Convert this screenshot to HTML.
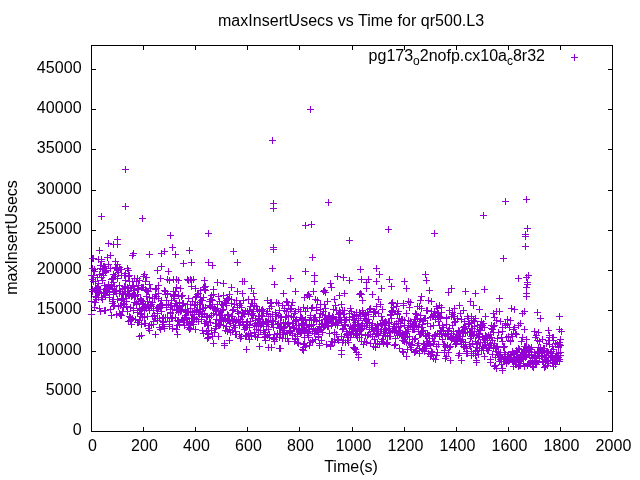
<!DOCTYPE html>
<html><head><meta charset="utf-8"><title>plot</title>
<style>
html,body{margin:0;padding:0;background:#fff;}
body{width:640px;height:480px;overflow:hidden;}
svg{display:block;will-change:transform;}
text{font-family:"Liberation Sans",sans-serif;font-size:16px;fill:#000;}
.tk{letter-spacing:0.1px;}
.ax{stroke:#000;stroke-width:1;fill:none;shape-rendering:crispEdges;}
.pt{stroke:#9400d3;stroke-width:1;fill:none;shape-rendering:crispEdges;}
</style></head><body>
<svg width="640" height="480" viewBox="0 0 640 480">
<rect width="640" height="480" fill="#fff"/>
<path class="ax" d="M91.5,45.5H612.5V431.5H91.5Z"/>
<path fill="#000" shape-rendering="crispEdges" d="M91,391h5v1h-5zM613,391h-5v1h5zM91,351h5v1h-5zM613,351h-5v1h5zM91,310h5v1h-5zM613,310h-5v1h5zM91,270h5v1h-5zM613,270h-5v1h5zM91,230h5v1h-5zM613,230h-5v1h5zM91,190h5v1h-5zM613,190h-5v1h5zM91,149h5v1h-5zM613,149h-5v1h5zM91,109h5v1h-5zM613,109h-5v1h5zM91,69h5v1h-5zM613,69h-5v1h5zM143,432v-5h1v5zM143,45v5h1v-5zM195,432v-5h1v5zM195,45v5h1v-5zM247,432v-5h1v5zM247,45v5h1v-5zM299,432v-5h1v5zM299,45v5h1v-5zM352,432v-5h1v5zM352,45v5h1v-5zM404,432v-5h1v5zM404,45v5h1v-5zM456,432v-5h1v5zM456,45v5h1v-5zM508,432v-5h1v5zM508,45v5h1v-5zM560,432v-5h1v5zM560,45v5h1v-5z"/>
<text class="tk" x="81.7" y="435" text-anchor="end">0</text>
<text class="tk" x="81.7" y="395" text-anchor="end">5000</text>
<text class="tk" x="81.7" y="355" text-anchor="end">10000</text>
<text class="tk" x="81.7" y="314" text-anchor="end">15000</text>
<text class="tk" x="81.7" y="274" text-anchor="end">20000</text>
<text class="tk" x="81.7" y="234" text-anchor="end">25000</text>
<text class="tk" x="81.7" y="194" text-anchor="end">30000</text>
<text class="tk" x="81.7" y="153" text-anchor="end">35000</text>
<text class="tk" x="81.7" y="113" text-anchor="end">40000</text>
<text class="tk" x="81.7" y="73" text-anchor="end">45000</text>
<text class="tk" x="92.6" y="450.75" text-anchor="middle">0</text>
<text class="tk" x="144.6" y="450.75" text-anchor="middle">200</text>
<text class="tk" x="196.6" y="450.75" text-anchor="middle">400</text>
<text class="tk" x="248.6" y="450.75" text-anchor="middle">600</text>
<text class="tk" x="300.6" y="450.75" text-anchor="middle">800</text>
<text class="tk" x="353.6" y="450.75" text-anchor="middle">1000</text>
<text class="tk" x="405.6" y="450.75" text-anchor="middle">1200</text>
<text class="tk" x="457.6" y="450.75" text-anchor="middle">1400</text>
<text class="tk" x="509.6" y="450.75" text-anchor="middle">1600</text>
<text class="tk" x="561.6" y="450.75" text-anchor="middle">1800</text>
<text class="tk" x="613.6" y="450.75" text-anchor="middle">2000</text>
<text x="351.1" y="26.3" text-anchor="middle" style="letter-spacing:0.035px">maxInsertUsecs vs Time for qr500.L3</text>
<text x="351" y="472" text-anchor="middle">Time(s)</text>
<text transform="translate(16.5,237.5) rotate(-90)" text-anchor="middle">maxInsertUsecs</text>
<text x="368.6" y="60.8">pg173<tspan font-size="12px" dy="4">o</tspan><tspan dy="-4">2nofp.cx10a</tspan><tspan font-size="12px" dy="4">c</tspan><tspan dy="-4">8r32</tspan></text>
<path class="pt" d="M571,57.5h7M574.5,54v7M122,169.5h7M125.5,166v7M122,206.5h7M125.5,203v7M98,216.5h7M101.5,213v7M139,218.5h7M142.5,215v7M167,235.5h7M170.5,232v7M205,233.5h7M208.5,230v7M114,239.5h7M117.5,236v7M105,243.5h7M108.5,240v7M110,244.5h7M113.5,241v7M114,244.5h7M117.5,241v7M169,247.5h7M172.5,244v7M96,250.5h7M99.5,247v7M186,250.5h7M189.5,247v7M230,251.5h7M233.5,248v7M161,251.5h7M164.5,248v7M158,253.5h7M161.5,250v7M130,253.5h7M133.5,250v7M129,255.5h7M132.5,252v7M146,254.5h7M149.5,251v7M172,254.5h7M175.5,251v7M180,263.5h7M183.5,260v7M188,262.5h7M191.5,259v7M205,262.5h7M208.5,259v7M209,265.5h7M212.5,262v7M234,262.5h7M237.5,259v7M158,266.5h7M161.5,263v7M307,109.5h7M310.5,106v7M269,140.5h7M272.5,137v7M270,203.5h7M273.5,200v7M270,208.5h7M273.5,205v7M325,202.5h7M328.5,199v7M302,225.5h7M305.5,222v7M308,224.5h7M311.5,221v7M385,229.5h7M388.5,226v7M346,240.5h7M349.5,237v7M270,247.5h7M273.5,244v7M270,249.5h7M273.5,246v7M309,257.5h7M312.5,254v7M269,268.5h7M272.5,265v7M302,271.5h7M305.5,268v7M357,269.5h7M360.5,266v7M373,268.5h7M376.5,265v7M376,274.5h7M379.5,271v7M287,278.5h7M290.5,275v7M311,275.5h7M314.5,272v7M311,281.5h7M314.5,278v7M334,276.5h7M337.5,273v7M340,277.5h7M343.5,274v7M346,280.5h7M349.5,277v7M358,279.5h7M361.5,276v7M365,279.5h7M368.5,276v7M373,281.5h7M376.5,278v7M386,279.5h7M389.5,276v7M388,286.5h7M391.5,283v7M378,288.5h7M381.5,285v7M401,281.5h7M404.5,278v7M271,284.5h7M274.5,281v7M248,288.5h7M251.5,285v7M250,293.5h7M253.5,290v7M280,293.5h7M283.5,290v7M292,291.5h7M295.5,288v7M327,283.5h7M330.5,280v7M328,287.5h7M331.5,284v7M321,290.5h7M324.5,287v7M341,293.5h7M344.5,290v7M336,295.5h7M339.5,292v7M363,282.5h7M366.5,279v7M363,288.5h7M366.5,285v7M310,291.5h7M313.5,288v7M304,295.5h7M307.5,292v7M357,293.5h7M360.5,290v7M369,294.5h7M372.5,291v7M502,201.5h7M505.5,198v7M523,199.5h7M526.5,196v7M480,215.5h7M483.5,212v7M431,233.5h7M434.5,230v7M524,228.5h7M527.5,225v7M522,234.5h7M525.5,231v7M522,236.5h7M525.5,233v7M522,246.5h7M525.5,243v7M500,258.5h7M503.5,255v7M422,274.5h7M425.5,271v7M423,280.5h7M426.5,277v7M515,278.5h7M518.5,275v7M525,275.5h7M528.5,272v7M523,277.5h7M526.5,274v7M524,282.5h7M527.5,279v7M524,284.5h7M527.5,281v7M523,287.5h7M526.5,284v7M523,293.5h7M526.5,290v7M403,288.5h7M406.5,285v7M426,290.5h7M429.5,287v7M448,288.5h7M451.5,285v7M445,292.5h7M448.5,289v7M462,291.5h7M465.5,288v7M472,293.5h7M475.5,290v7M481,289.5h7M484.5,286v7M418,296.5h7M421.5,293v7M496,298.5h7M499.5,295v7M508,308.5h7M511.5,305v7M511,309.5h7M514.5,306v7M496,311.5h7M499.5,308v7M493,311.5h7M496.5,308v7M521,311.5h7M524.5,308v7M519,313.5h7M522.5,310v7M534,312.5h7M537.5,309v7M537,318.5h7M540.5,315v7M556,316.5h7M559.5,313v7M504,319.5h7M507.5,316v7M507,320.5h7M510.5,317v7M502,323.5h7M505.5,320v7M517,323.5h7M520.5,320v7M490,313.5h7M493.5,310v7M491,317.5h7M494.5,314v7M521,329.5h7M524.5,326v7M510,329.5h7M513.5,326v7M531,331.5h7M534.5,328v7M535,332.5h7M538.5,329v7M545,330.5h7M548.5,327v7M556,329.5h7M559.5,326v7M558,331.5h7M561.5,328v7M519,337.5h7M522.5,334v7M533,335.5h7M536.5,332v7M523,296.5h7M526.5,293v7M88,314.5h7M91.5,311v7M108,315.5h7M111.5,312v7M117,314.5h7M120.5,311v7M125,321.5h7M128.5,318v7M138,324.5h7M141.5,321v7M138,335.5h7M141.5,332v7M152,334.5h7M155.5,331v7M174,334.5h7M177.5,331v7M146,330.5h7M149.5,327v7M145,328.5h7M148.5,325v7M161,328.5h7M164.5,325v7M173,329.5h7M176.5,326v7M187,328.5h7M190.5,325v7M192,329.5h7M195.5,326v7M203,331.5h7M206.5,328v7M205,334.5h7M208.5,331v7M204,333.5h7M207.5,330v7M215,336.5h7M218.5,333v7M221,345.5h7M224.5,342v7M226,340.5h7M229.5,337v7M237,338.5h7M240.5,335v7M243,349.5h7M246.5,346v7M246,339.5h7M249.5,336v7M256,346.5h7M259.5,343v7M262,340.5h7M265.5,337v7M265,347.5h7M268.5,344v7M268,347.5h7M271.5,344v7M276,348.5h7M279.5,345v7M277,348.5h7M280.5,345v7M300,344.5h7M303.5,341v7M300,347.5h7M303.5,344v7M300,350.5h7M303.5,347v7M299,349.5h7M302.5,346v7M284,338.5h7M287.5,335v7M292,339.5h7M295.5,336v7M315,337.5h7M318.5,334v7M316,345.5h7M319.5,342v7M316,343.5h7M319.5,340v7M327,345.5h7M330.5,342v7M338,350.5h7M341.5,347v7M338,354.5h7M341.5,351v7M351,348.5h7M354.5,345v7M350,347.5h7M353.5,344v7M352,349.5h7M355.5,346v7M353,352.5h7M356.5,349v7M355,354.5h7M358.5,351v7M355,357.5h7M358.5,354v7M371,363.5h7M374.5,360v7M372,347.5h7M375.5,344v7M363,342.5h7M366.5,339v7M344,340.5h7M347.5,337v7M396,348.5h7M399.5,345v7M400,352.5h7M403.5,349v7M399,351.5h7M402.5,348v7M412,351.5h7M415.5,348v7M416,353.5h7M419.5,350v7M419,350.5h7M422.5,347v7M427,354.5h7M430.5,351v7M411,352.5h7M414.5,349v7M420,348.5h7M423.5,345v7M427,356.5h7M430.5,353v7M432,359.5h7M435.5,356v7M430,358.5h7M433.5,355v7M447,360.5h7M450.5,357v7M443,356.5h7M446.5,353v7M458,360.5h7M461.5,357v7M468,355.5h7M471.5,352v7M473,360.5h7M476.5,357v7M473,362.5h7M476.5,359v7M487,362.5h7M490.5,359v7M499,368.5h7M502.5,365v7M499,370.5h7M502.5,367v7M510,366.5h7M513.5,363v7M515,366.5h7M518.5,363v7M417,300.5h7M420.5,297v7M405,301.5h7M408.5,298v7M407,302.5h7M410.5,299v7M425,300.5h7M428.5,297v7M428,301.5h7M431.5,298v7M436,305.5h7M439.5,302v7M438,307.5h7M441.5,304v7M434,308.5h7M437.5,305v7M438,312.5h7M441.5,309v7M456,305.5h7M459.5,302v7M451,308.5h7M454.5,305v7M449,312.5h7M452.5,309v7M450,316.5h7M453.5,313v7M467,301.5h7M470.5,298v7M470,305.5h7M473.5,302v7M476,309.5h7M479.5,306v7M460,310.5h7M463.5,307v7M468,316.5h7M471.5,313v7M482,316.5h7M485.5,313v7M416,306.5h7M419.5,303v7M424,310.5h7M427.5,307v7M400,305.5h7M403.5,302v7M406,307.5h7M409.5,304v7M443,317.5h7M446.5,314v7M457,313.5h7M460.5,310v7M461,321.5h7M464.5,318v7M239,281.5h7M242.5,278v7M241,281.5h7M244.5,278v7M239,293.5h7M242.5,290v7M301,297.5h7M304.5,294v7M331,299.5h7M334.5,296v7M245,299.5h7M248.5,296v7M251,299.5h7M254.5,296v7M264,300.5h7M267.5,297v7M283,301.5h7M286.5,298v7M312,299.5h7M315.5,296v7M322,292.5h7M325.5,289v7M320,291.5h7M323.5,288v7M305,294.5h7M308.5,291v7M306,296.5h7M309.5,293v7M375,299.5h7M378.5,296v7M359,300.5h7M362.5,297v7M356,294.5h7M359.5,291v7M358,294.5h7M361.5,291v7M389,302.5h7M392.5,299v7M394,303.5h7M397.5,300v7M154,270.5h7M157.5,267v7M165,271.5h7M168.5,268v7M157,278.5h7M160.5,275v7M164,279.5h7M167.5,276v7M166,280.5h7M169.5,277v7M170,279.5h7M173.5,276v7M173,279.5h7M176.5,276v7M175,280.5h7M178.5,277v7M184,279.5h7M187.5,276v7M185,280.5h7M188.5,277v7M187,279.5h7M190.5,276v7M188,280.5h7M191.5,277v7M190,279.5h7M193.5,276v7M201,280.5h7M204.5,277v7M214,282.5h7M217.5,279v7M220,283.5h7M223.5,280v7M228,287.5h7M231.5,284v7M188,286.5h7M191.5,283v7M201,287.5h7M204.5,284v7M200,287.5h7M203.5,284v7M202,286.5h7M205.5,283v7M197,290.5h7M200.5,287v7M210,289.5h7M213.5,286v7M234,291.5h7M237.5,288v7M226,294.5h7M229.5,291v7M557,339.5h7M560.5,336v7M556,342.5h7M559.5,339v7M557,345.5h7M560.5,342v7M555,347.5h7M558.5,344v7M549,337.5h7M552.5,334v7M550,340.5h7M553.5,337v7M543,343.5h7M546.5,340v7M532,337.5h7M535.5,334v7M534,340.5h7M537.5,337v7M88,301.5h7M91.5,298v7M89,289.5h7M92.5,286v7M89,291.5h7M92.5,288v7M89,268.5h7M92.5,265v7M89,258.5h7M92.5,255v7M90,281.5h7M93.5,278v7M90,275.5h7M93.5,272v7M90,258.5h7M93.5,255v7M91,307.5h7M94.5,304v7M91,302.5h7M94.5,299v7M91,271.5h7M94.5,268v7M92,296.5h7M95.5,293v7M92,302.5h7M95.5,299v7M92,288.5h7M95.5,285v7M93,290.5h7M96.5,287v7M93,299.5h7M96.5,296v7M93,290.5h7M96.5,287v7M93,288.5h7M96.5,285v7M94,288.5h7M97.5,285v7M94,277.5h7M97.5,274v7M94,287.5h7M97.5,284v7M95,259.5h7M98.5,256v7M95,297.5h7M98.5,294v7M95,291.5h7M98.5,288v7M96,289.5h7M99.5,286v7M96,308.5h7M99.5,305v7M96,292.5h7M99.5,289v7M97,265.5h7M100.5,262v7M97,311.5h7M100.5,308v7M97,268.5h7M100.5,265v7M98,259.5h7M101.5,256v7M98,297.5h7M101.5,294v7M98,297.5h7M101.5,294v7M98,261.5h7M101.5,258v7M99,280.5h7M102.5,277v7M99,299.5h7M102.5,296v7M99,269.5h7M102.5,266v7M100,275.5h7M103.5,272v7M100,293.5h7M103.5,290v7M100,266.5h7M103.5,263v7M101,293.5h7M104.5,290v7M101,310.5h7M104.5,307v7M101,266.5h7M104.5,263v7M102,295.5h7M105.5,292v7M102,271.5h7M105.5,268v7M102,310.5h7M105.5,307v7M102,268.5h7M105.5,265v7M103,270.5h7M106.5,267v7M103,288.5h7M106.5,285v7M103,290.5h7M106.5,287v7M104,292.5h7M107.5,289v7M104,288.5h7M107.5,285v7M104,289.5h7M107.5,286v7M105,287.5h7M108.5,284v7M105,264.5h7M108.5,261v7M105,284.5h7M108.5,281v7M106,294.5h7M109.5,291v7M106,297.5h7M109.5,294v7M106,287.5h7M109.5,284v7M106,291.5h7M109.5,288v7M107,309.5h7M110.5,306v7M107,268.5h7M110.5,265v7M107,255.5h7M110.5,252v7M108,284.5h7M111.5,281v7M108,286.5h7M111.5,283v7M108,285.5h7M111.5,282v7M109,278.5h7M112.5,275v7M109,288.5h7M112.5,285v7M109,303.5h7M112.5,300v7M110,292.5h7M113.5,289v7M110,282.5h7M113.5,279v7M110,306.5h7M113.5,303v7M110,299.5h7M113.5,296v7M111,291.5h7M114.5,288v7M111,286.5h7M114.5,283v7M111,305.5h7M114.5,302v7M112,261.5h7M115.5,258v7M112,276.5h7M115.5,273v7M112,267.5h7M115.5,264v7M113,314.5h7M116.5,311v7M113,268.5h7M116.5,265v7M113,293.5h7M116.5,290v7M114,264.5h7M117.5,261v7M114,269.5h7M117.5,266v7M114,270.5h7M117.5,267v7M114,299.5h7M117.5,296v7M115,270.5h7M118.5,267v7M115,272.5h7M118.5,269v7M115,306.5h7M118.5,303v7M116,313.5h7M119.5,310v7M116,267.5h7M119.5,264v7M116,293.5h7M119.5,290v7M117,305.5h7M120.5,302v7M117,269.5h7M120.5,266v7M117,315.5h7M120.5,312v7M118,298.5h7M121.5,295v7M118,300.5h7M121.5,297v7M118,315.5h7M121.5,312v7M118,275.5h7M121.5,272v7M119,298.5h7M122.5,295v7M119,289.5h7M122.5,286v7M119,288.5h7M122.5,285v7M120,307.5h7M123.5,304v7M120,294.5h7M123.5,291v7M120,303.5h7M123.5,300v7M121,286.5h7M124.5,283v7M121,275.5h7M124.5,272v7M121,291.5h7M124.5,288v7M122,291.5h7M125.5,288v7M122,273.5h7M125.5,270v7M122,280.5h7M125.5,277v7M122,287.5h7M125.5,284v7M123,298.5h7M126.5,295v7M123,301.5h7M126.5,298v7M123,306.5h7M126.5,303v7M124,268.5h7M127.5,265v7M124,287.5h7M127.5,284v7M124,293.5h7M127.5,290v7M125,276.5h7M128.5,273v7M125,270.5h7M128.5,267v7M125,288.5h7M128.5,285v7M126,281.5h7M129.5,278v7M126,275.5h7M129.5,272v7M126,316.5h7M129.5,313v7M126,293.5h7M129.5,290v7M127,288.5h7M130.5,285v7M127,307.5h7M130.5,304v7M127,320.5h7M130.5,317v7M128,296.5h7M131.5,293v7M128,324.5h7M131.5,321v7M128,319.5h7M131.5,316v7M129,285.5h7M132.5,282v7M129,281.5h7M132.5,278v7M129,295.5h7M132.5,292v7M130,294.5h7M133.5,291v7M130,286.5h7M133.5,283v7M130,308.5h7M133.5,305v7M130,285.5h7M133.5,282v7M131,290.5h7M134.5,287v7M131,295.5h7M134.5,292v7M131,302.5h7M134.5,299v7M132,296.5h7M135.5,293v7M132,319.5h7M135.5,316v7M132,295.5h7M135.5,292v7M133,303.5h7M136.5,300v7M133,304.5h7M136.5,301v7M133,281.5h7M136.5,278v7M134,322.5h7M137.5,319v7M134,294.5h7M137.5,291v7M134,288.5h7M137.5,285v7M134,312.5h7M137.5,309v7M135,289.5h7M138.5,286v7M135,301.5h7M138.5,298v7M135,322.5h7M138.5,319v7M136,320.5h7M139.5,317v7M136,336.5h7M139.5,333v7M136,308.5h7M139.5,305v7M137,298.5h7M140.5,295v7M137,310.5h7M140.5,307v7M137,299.5h7M140.5,296v7M138,300.5h7M141.5,297v7M138,314.5h7M141.5,311v7M138,313.5h7M141.5,310v7M138,287.5h7M141.5,284v7M139,287.5h7M142.5,284v7M139,308.5h7M142.5,305v7M139,317.5h7M142.5,314v7M140,276.5h7M143.5,273v7M140,287.5h7M143.5,284v7M140,304.5h7M143.5,301v7M141,317.5h7M144.5,314v7M141,274.5h7M144.5,271v7M141,323.5h7M144.5,320v7M142,289.5h7M145.5,286v7M142,323.5h7M145.5,320v7M142,281.5h7M145.5,278v7M142,305.5h7M145.5,302v7M143,308.5h7M146.5,305v7M143,277.5h7M146.5,274v7M143,290.5h7M146.5,287v7M144,301.5h7M147.5,298v7M144,291.5h7M147.5,288v7M144,316.5h7M147.5,313v7M145,304.5h7M148.5,301v7M145,307.5h7M148.5,304v7M145,291.5h7M148.5,288v7M146,284.5h7M149.5,281v7M146,325.5h7M149.5,322v7M146,297.5h7M149.5,294v7M146,310.5h7M149.5,307v7M147,288.5h7M150.5,285v7M147,305.5h7M150.5,302v7M147,288.5h7M150.5,285v7M148,306.5h7M151.5,303v7M148,324.5h7M151.5,321v7M148,304.5h7M151.5,301v7M149,298.5h7M152.5,295v7M149,302.5h7M152.5,299v7M149,316.5h7M152.5,313v7M150,310.5h7M153.5,307v7M150,324.5h7M153.5,321v7M150,308.5h7M153.5,305v7M150,321.5h7M153.5,318v7M151,298.5h7M154.5,295v7M151,316.5h7M154.5,313v7M151,315.5h7M154.5,312v7M152,289.5h7M155.5,286v7M152,318.5h7M155.5,315v7M152,294.5h7M155.5,291v7M153,308.5h7M156.5,305v7M153,296.5h7M156.5,293v7M153,288.5h7M156.5,285v7M154,313.5h7M157.5,310v7M154,308.5h7M157.5,305v7M154,320.5h7M157.5,317v7M155,293.5h7M158.5,290v7M155,285.5h7M158.5,282v7M155,307.5h7M158.5,304v7M155,298.5h7M158.5,295v7M156,318.5h7M159.5,315v7M156,327.5h7M159.5,324v7M156,306.5h7M159.5,303v7M157,329.5h7M160.5,326v7M157,304.5h7M160.5,301v7M157,307.5h7M160.5,304v7M158,307.5h7M161.5,304v7M158,311.5h7M161.5,308v7M158,300.5h7M161.5,297v7M159,321.5h7M162.5,318v7M159,326.5h7M162.5,323v7M159,305.5h7M162.5,302v7M159,318.5h7M162.5,315v7M160,324.5h7M163.5,321v7M160,322.5h7M163.5,319v7M160,317.5h7M163.5,314v7M161,328.5h7M164.5,325v7M161,290.5h7M164.5,287v7M161,328.5h7M164.5,325v7M162,317.5h7M165.5,314v7M162,291.5h7M165.5,288v7M162,294.5h7M165.5,291v7M163,300.5h7M166.5,297v7M163,307.5h7M166.5,304v7M163,300.5h7M166.5,297v7M163,304.5h7M166.5,301v7M164,294.5h7M167.5,291v7M164,317.5h7M167.5,314v7M164,293.5h7M167.5,290v7M165,304.5h7M168.5,301v7M165,304.5h7M168.5,301v7M165,304.5h7M168.5,301v7M166,324.5h7M169.5,321v7M166,326.5h7M169.5,323v7M166,321.5h7M169.5,318v7M167,312.5h7M170.5,309v7M167,305.5h7M170.5,302v7M167,309.5h7M170.5,306v7M167,313.5h7M170.5,310v7M168,305.5h7M171.5,302v7M168,318.5h7M171.5,315v7M168,300.5h7M171.5,297v7M169,309.5h7M172.5,306v7M169,317.5h7M172.5,314v7M169,328.5h7M172.5,325v7M170,295.5h7M173.5,292v7M170,291.5h7M173.5,288v7M170,296.5h7M173.5,293v7M171,296.5h7M174.5,293v7M171,306.5h7M174.5,303v7M171,298.5h7M174.5,295v7M171,294.5h7M174.5,291v7M172,317.5h7M175.5,314v7M172,291.5h7M175.5,288v7M172,303.5h7M175.5,300v7M173,303.5h7M176.5,300v7M173,287.5h7M176.5,284v7M173,310.5h7M176.5,307v7M174,320.5h7M177.5,317v7M174,325.5h7M177.5,322v7M174,305.5h7M177.5,302v7M175,321.5h7M178.5,318v7M175,295.5h7M178.5,292v7M175,309.5h7M178.5,306v7M175,312.5h7M178.5,309v7M176,302.5h7M179.5,299v7M176,324.5h7M179.5,321v7M176,306.5h7M179.5,303v7M177,288.5h7M180.5,285v7M177,310.5h7M180.5,307v7M177,311.5h7M180.5,308v7M178,296.5h7M181.5,293v7M178,310.5h7M181.5,307v7M178,309.5h7M181.5,306v7M179,295.5h7M182.5,292v7M179,303.5h7M182.5,300v7M179,319.5h7M182.5,316v7M179,305.5h7M182.5,302v7M180,320.5h7M183.5,317v7M180,303.5h7M183.5,300v7M180,322.5h7M183.5,319v7M181,325.5h7M184.5,322v7M181,318.5h7M184.5,315v7M181,317.5h7M184.5,314v7M182,315.5h7M185.5,312v7M182,317.5h7M185.5,314v7M182,309.5h7M185.5,306v7M183,322.5h7M186.5,319v7M183,312.5h7M186.5,309v7M183,319.5h7M186.5,316v7M183,317.5h7M186.5,314v7M184,304.5h7M187.5,301v7M184,311.5h7M187.5,308v7M184,322.5h7M187.5,319v7M185,298.5h7M188.5,295v7M185,311.5h7M188.5,308v7M185,327.5h7M188.5,324v7M186,323.5h7M189.5,320v7M186,325.5h7M189.5,322v7M186,329.5h7M189.5,326v7M187,312.5h7M190.5,309v7M187,308.5h7M190.5,305v7M187,311.5h7M190.5,308v7M187,304.5h7M190.5,301v7M188,321.5h7M191.5,318v7M188,318.5h7M191.5,315v7M188,322.5h7M191.5,319v7M189,311.5h7M192.5,308v7M189,301.5h7M192.5,298v7M189,318.5h7M192.5,315v7M190,318.5h7M193.5,315v7M190,324.5h7M193.5,321v7M190,318.5h7M193.5,315v7M191,305.5h7M194.5,302v7M191,318.5h7M194.5,315v7M191,314.5h7M194.5,311v7M191,317.5h7M194.5,314v7M192,288.5h7M195.5,285v7M192,297.5h7M195.5,294v7M192,304.5h7M195.5,301v7M193,310.5h7M196.5,307v7M193,296.5h7M196.5,293v7M193,319.5h7M196.5,316v7M194,309.5h7M197.5,306v7M194,304.5h7M197.5,301v7M194,294.5h7M197.5,291v7M195,321.5h7M198.5,318v7M195,312.5h7M198.5,309v7M195,293.5h7M198.5,290v7M195,321.5h7M198.5,318v7M196,314.5h7M199.5,311v7M196,309.5h7M199.5,306v7M196,302.5h7M199.5,299v7M197,304.5h7M200.5,301v7M197,297.5h7M200.5,294v7M197,311.5h7M200.5,308v7M198,319.5h7M201.5,316v7M198,316.5h7M201.5,313v7M198,300.5h7M201.5,297v7M199,308.5h7M202.5,305v7M199,300.5h7M202.5,297v7M199,330.5h7M202.5,327v7M199,314.5h7M202.5,311v7M200,308.5h7M203.5,305v7M200,333.5h7M203.5,330v7M200,297.5h7M203.5,294v7M201,313.5h7M204.5,310v7M201,289.5h7M204.5,286v7M201,323.5h7M204.5,320v7M202,307.5h7M205.5,304v7M202,323.5h7M205.5,320v7M202,290.5h7M205.5,287v7M203,316.5h7M206.5,313v7M203,321.5h7M206.5,318v7M203,316.5h7M206.5,313v7M203,317.5h7M206.5,314v7M204,338.5h7M207.5,335v7M204,325.5h7M207.5,322v7M204,316.5h7M207.5,313v7M205,325.5h7M208.5,322v7M205,337.5h7M208.5,334v7M205,330.5h7M208.5,327v7M206,301.5h7M209.5,298v7M206,317.5h7M209.5,314v7M206,305.5h7M209.5,302v7M207,299.5h7M210.5,296v7M207,322.5h7M210.5,319v7M207,306.5h7M210.5,303v7M208,315.5h7M211.5,312v7M208,330.5h7M211.5,327v7M208,299.5h7M211.5,296v7M208,295.5h7M211.5,292v7M209,304.5h7M212.5,301v7M209,336.5h7M212.5,333v7M209,300.5h7M212.5,297v7M210,343.5h7M213.5,340v7M210,313.5h7M213.5,310v7M210,294.5h7M213.5,291v7M211,332.5h7M214.5,329v7M211,308.5h7M214.5,305v7M211,307.5h7M214.5,304v7M212,309.5h7M215.5,306v7M212,310.5h7M215.5,307v7M212,323.5h7M215.5,320v7M212,328.5h7M215.5,325v7M213,326.5h7M216.5,323v7M213,319.5h7M216.5,316v7M213,314.5h7M216.5,311v7M214,308.5h7M217.5,305v7M214,304.5h7M217.5,301v7M214,304.5h7M217.5,301v7M215,311.5h7M218.5,308v7M215,325.5h7M218.5,322v7M215,296.5h7M218.5,293v7M216,325.5h7M219.5,322v7M216,315.5h7M219.5,312v7M216,314.5h7M219.5,311v7M216,301.5h7M219.5,298v7M217,324.5h7M220.5,321v7M217,320.5h7M220.5,317v7M217,315.5h7M220.5,312v7M218,304.5h7M221.5,301v7M218,315.5h7M221.5,312v7M218,321.5h7M221.5,318v7M219,317.5h7M222.5,314v7M219,310.5h7M222.5,307v7M219,304.5h7M222.5,301v7M220,325.5h7M223.5,322v7M220,305.5h7M223.5,302v7M220,295.5h7M223.5,292v7M220,309.5h7M223.5,306v7M221,302.5h7M224.5,299v7M221,318.5h7M224.5,315v7M221,343.5h7M224.5,340v7M222,330.5h7M225.5,327v7M222,303.5h7M225.5,300v7M222,319.5h7M225.5,316v7M223,300.5h7M226.5,297v7M223,326.5h7M226.5,323v7M223,305.5h7M226.5,302v7M224,314.5h7M227.5,311v7M224,298.5h7M227.5,295v7M224,320.5h7M227.5,317v7M224,331.5h7M227.5,328v7M225,299.5h7M228.5,296v7M225,315.5h7M228.5,312v7M225,319.5h7M228.5,316v7M226,320.5h7M229.5,317v7M226,321.5h7M229.5,318v7M226,329.5h7M229.5,326v7M227,323.5h7M230.5,320v7M227,323.5h7M230.5,320v7M227,332.5h7M230.5,329v7M228,303.5h7M231.5,300v7M228,316.5h7M231.5,313v7M228,299.5h7M231.5,296v7M228,316.5h7M231.5,313v7M229,310.5h7M232.5,307v7M229,330.5h7M232.5,327v7M229,316.5h7M232.5,313v7M230,309.5h7M233.5,306v7M230,325.5h7M233.5,322v7M230,321.5h7M233.5,318v7M231,319.5h7M234.5,316v7M231,304.5h7M234.5,301v7M231,327.5h7M234.5,324v7M232,322.5h7M235.5,319v7M232,334.5h7M235.5,331v7M232,325.5h7M235.5,322v7M232,331.5h7M235.5,328v7M233,300.5h7M236.5,297v7M233,334.5h7M236.5,331v7M233,320.5h7M236.5,317v7M234,307.5h7M237.5,304v7M234,311.5h7M237.5,308v7M234,311.5h7M237.5,308v7M235,321.5h7M238.5,318v7M235,319.5h7M238.5,316v7M235,313.5h7M238.5,310v7M236,305.5h7M239.5,302v7M236,303.5h7M239.5,300v7M236,325.5h7M239.5,322v7M236,334.5h7M239.5,331v7M237,319.5h7M240.5,316v7M237,322.5h7M240.5,319v7M237,303.5h7M240.5,300v7M238,307.5h7M241.5,304v7M238,316.5h7M241.5,313v7M238,336.5h7M241.5,333v7M239,312.5h7M242.5,309v7M239,321.5h7M242.5,318v7M239,316.5h7M242.5,313v7M240,324.5h7M243.5,321v7M240,300.5h7M243.5,297v7M240,313.5h7M243.5,310v7M240,325.5h7M243.5,322v7M241,313.5h7M244.5,310v7M241,329.5h7M244.5,326v7M241,314.5h7M244.5,311v7M242,336.5h7M245.5,333v7M242,327.5h7M245.5,324v7M242,311.5h7M245.5,308v7M243,322.5h7M246.5,319v7M243,335.5h7M246.5,332v7M243,327.5h7M246.5,324v7M244,321.5h7M247.5,318v7M244,311.5h7M247.5,308v7M244,321.5h7M247.5,318v7M244,325.5h7M247.5,322v7M245,313.5h7M248.5,310v7M245,334.5h7M248.5,331v7M245,336.5h7M248.5,333v7M246,310.5h7M249.5,307v7M246,327.5h7M249.5,324v7M246,324.5h7M249.5,321v7M247,321.5h7M250.5,318v7M247,306.5h7M250.5,303v7M247,333.5h7M250.5,330v7M248,303.5h7M251.5,300v7M248,336.5h7M251.5,333v7M248,314.5h7M251.5,311v7M248,335.5h7M251.5,332v7M249,313.5h7M252.5,310v7M249,303.5h7M252.5,300v7M249,318.5h7M252.5,315v7M250,315.5h7M253.5,312v7M250,309.5h7M253.5,306v7M250,311.5h7M253.5,308v7M251,332.5h7M254.5,329v7M251,325.5h7M254.5,322v7M251,305.5h7M254.5,302v7M252,320.5h7M255.5,317v7M252,323.5h7M255.5,320v7M252,336.5h7M255.5,333v7M252,318.5h7M255.5,315v7M253,306.5h7M256.5,303v7M253,326.5h7M256.5,323v7M253,329.5h7M256.5,326v7M254,323.5h7M257.5,320v7M254,337.5h7M257.5,334v7M254,309.5h7M257.5,306v7M255,325.5h7M258.5,322v7M255,316.5h7M258.5,313v7M255,334.5h7M258.5,331v7M256,319.5h7M259.5,316v7M256,311.5h7M259.5,308v7M256,322.5h7M259.5,319v7M256,310.5h7M259.5,307v7M257,330.5h7M260.5,327v7M257,321.5h7M260.5,318v7M257,321.5h7M260.5,318v7M258,315.5h7M261.5,312v7M258,310.5h7M261.5,307v7M258,324.5h7M261.5,321v7M259,316.5h7M262.5,313v7M259,323.5h7M262.5,320v7M259,309.5h7M262.5,306v7M260,311.5h7M263.5,308v7M260,326.5h7M263.5,323v7M260,330.5h7M263.5,327v7M260,322.5h7M263.5,319v7M261,337.5h7M264.5,334v7M261,332.5h7M264.5,329v7M261,337.5h7M264.5,334v7M262,334.5h7M265.5,331v7M262,336.5h7M265.5,333v7M262,321.5h7M265.5,318v7M263,313.5h7M266.5,310v7M263,321.5h7M266.5,318v7M263,326.5h7M266.5,323v7M264,335.5h7M267.5,332v7M264,322.5h7M267.5,319v7M264,311.5h7M267.5,308v7M265,316.5h7M268.5,313v7M265,321.5h7M268.5,318v7M265,329.5h7M268.5,326v7M265,324.5h7M268.5,321v7M266,337.5h7M269.5,334v7M266,308.5h7M269.5,305v7M266,334.5h7M269.5,331v7M267,302.5h7M270.5,299v7M267,316.5h7M270.5,313v7M267,303.5h7M270.5,300v7M268,324.5h7M271.5,321v7M268,306.5h7M271.5,303v7M268,302.5h7M271.5,299v7M269,324.5h7M272.5,321v7M269,320.5h7M272.5,317v7M269,314.5h7M272.5,311v7M269,321.5h7M272.5,318v7M270,327.5h7M273.5,324v7M270,321.5h7M273.5,318v7M270,338.5h7M273.5,335v7M271,341.5h7M274.5,338v7M271,339.5h7M274.5,336v7M271,334.5h7M274.5,331v7M272,312.5h7M275.5,309v7M272,314.5h7M275.5,311v7M272,321.5h7M275.5,318v7M273,316.5h7M276.5,313v7M273,337.5h7M276.5,334v7M273,302.5h7M276.5,299v7M273,302.5h7M276.5,299v7M274,333.5h7M277.5,330v7M274,324.5h7M277.5,321v7M274,334.5h7M277.5,331v7M275,315.5h7M278.5,312v7M275,323.5h7M278.5,320v7M275,303.5h7M278.5,300v7M276,310.5h7M279.5,307v7M276,328.5h7M279.5,325v7M276,337.5h7M279.5,334v7M277,323.5h7M280.5,320v7M277,334.5h7M280.5,331v7M277,328.5h7M280.5,325v7M277,316.5h7M280.5,313v7M278,327.5h7M281.5,324v7M278,326.5h7M281.5,323v7M278,317.5h7M281.5,314v7M279,338.5h7M282.5,335v7M279,305.5h7M282.5,302v7M279,332.5h7M282.5,329v7M280,322.5h7M283.5,319v7M280,328.5h7M283.5,325v7M280,334.5h7M283.5,331v7M281,308.5h7M284.5,305v7M281,310.5h7M284.5,307v7M281,327.5h7M284.5,324v7M281,330.5h7M284.5,327v7M282,317.5h7M285.5,314v7M282,323.5h7M285.5,320v7M282,338.5h7M285.5,335v7M283,311.5h7M286.5,308v7M283,301.5h7M286.5,298v7M283,316.5h7M286.5,313v7M284,333.5h7M287.5,330v7M284,324.5h7M287.5,321v7M284,302.5h7M287.5,299v7M285,341.5h7M288.5,338v7M285,322.5h7M288.5,319v7M285,315.5h7M288.5,312v7M285,305.5h7M288.5,302v7M286,326.5h7M289.5,323v7M286,332.5h7M289.5,329v7M286,331.5h7M289.5,328v7M287,309.5h7M290.5,306v7M287,331.5h7M290.5,328v7M287,330.5h7M290.5,327v7M288,308.5h7M291.5,305v7M288,316.5h7M291.5,313v7M288,305.5h7M291.5,302v7M289,302.5h7M292.5,299v7M289,335.5h7M292.5,332v7M289,333.5h7M292.5,330v7M289,323.5h7M292.5,320v7M290,323.5h7M293.5,320v7M290,317.5h7M293.5,314v7M290,327.5h7M293.5,324v7M291,341.5h7M294.5,338v7M291,328.5h7M294.5,325v7M291,313.5h7M294.5,310v7M292,338.5h7M295.5,335v7M292,311.5h7M295.5,308v7M292,321.5h7M295.5,318v7M293,320.5h7M296.5,317v7M293,319.5h7M296.5,316v7M293,325.5h7M296.5,322v7M293,329.5h7M296.5,326v7M294,334.5h7M297.5,331v7M294,342.5h7M297.5,339v7M294,336.5h7M297.5,333v7M295,343.5h7M298.5,340v7M295,309.5h7M298.5,306v7M295,325.5h7M298.5,322v7M296,329.5h7M299.5,326v7M296,328.5h7M299.5,325v7M296,330.5h7M299.5,327v7M297,333.5h7M300.5,330v7M297,331.5h7M300.5,328v7M297,317.5h7M300.5,314v7M297,311.5h7M300.5,308v7M298,324.5h7M301.5,321v7M298,332.5h7M301.5,329v7M298,317.5h7M301.5,314v7M299,323.5h7M302.5,320v7M299,318.5h7M302.5,315v7M299,328.5h7M302.5,325v7M300,307.5h7M303.5,304v7M300,320.5h7M303.5,317v7M300,329.5h7M303.5,326v7M301,325.5h7M304.5,322v7M301,343.5h7M304.5,340v7M301,333.5h7M304.5,330v7M301,337.5h7M304.5,334v7M302,319.5h7M305.5,316v7M302,311.5h7M305.5,308v7M302,346.5h7M305.5,343v7M303,327.5h7M306.5,324v7M303,330.5h7M306.5,327v7M303,324.5h7M306.5,321v7M304,333.5h7M307.5,330v7M304,308.5h7M307.5,305v7M304,332.5h7M307.5,329v7M305,331.5h7M308.5,328v7M305,335.5h7M308.5,332v7M305,329.5h7M308.5,326v7M305,337.5h7M308.5,334v7M306,320.5h7M309.5,317v7M306,326.5h7M309.5,323v7M306,345.5h7M309.5,342v7M307,317.5h7M310.5,314v7M307,315.5h7M310.5,312v7M307,342.5h7M310.5,339v7M308,320.5h7M311.5,317v7M308,325.5h7M311.5,322v7M308,308.5h7M311.5,305v7M309,341.5h7M312.5,338v7M309,307.5h7M312.5,304v7M309,340.5h7M312.5,337v7M309,331.5h7M312.5,328v7M310,328.5h7M313.5,325v7M310,319.5h7M313.5,316v7M310,324.5h7M313.5,321v7M311,319.5h7M314.5,316v7M311,317.5h7M314.5,314v7M311,333.5h7M314.5,330v7M312,330.5h7M315.5,327v7M312,317.5h7M315.5,314v7M312,339.5h7M315.5,336v7M313,321.5h7M316.5,318v7M313,331.5h7M316.5,328v7M313,310.5h7M316.5,307v7M313,307.5h7M316.5,304v7M314,329.5h7M317.5,326v7M314,300.5h7M317.5,297v7M314,330.5h7M317.5,327v7M315,331.5h7M318.5,328v7M315,334.5h7M318.5,331v7M315,336.5h7M318.5,333v7M316,317.5h7M319.5,314v7M316,320.5h7M319.5,317v7M316,326.5h7M319.5,323v7M317,329.5h7M320.5,326v7M317,309.5h7M320.5,306v7M317,304.5h7M320.5,301v7M317,313.5h7M320.5,310v7M318,327.5h7M321.5,324v7M318,340.5h7M321.5,337v7M318,324.5h7M321.5,321v7M319,323.5h7M322.5,320v7M319,332.5h7M322.5,329v7M319,314.5h7M322.5,311v7M320,327.5h7M323.5,324v7M320,311.5h7M323.5,308v7M320,326.5h7M323.5,323v7M321,304.5h7M324.5,301v7M321,319.5h7M324.5,316v7M321,326.5h7M324.5,323v7M322,315.5h7M325.5,312v7M322,325.5h7M325.5,322v7M322,308.5h7M325.5,305v7M322,324.5h7M325.5,321v7M323,318.5h7M326.5,315v7M323,344.5h7M326.5,341v7M323,323.5h7M326.5,320v7M324,301.5h7M327.5,298v7M324,319.5h7M327.5,316v7M324,326.5h7M327.5,323v7M325,320.5h7M328.5,317v7M325,326.5h7M328.5,323v7M325,315.5h7M328.5,312v7M326,315.5h7M329.5,312v7M326,320.5h7M329.5,317v7M326,320.5h7M329.5,317v7M326,333.5h7M329.5,330v7M327,319.5h7M330.5,316v7M327,346.5h7M330.5,343v7M327,318.5h7M330.5,315v7M328,319.5h7M331.5,316v7M328,341.5h7M331.5,338v7M328,325.5h7M331.5,322v7M329,316.5h7M332.5,313v7M329,323.5h7M332.5,320v7M329,341.5h7M332.5,338v7M330,318.5h7M333.5,315v7M330,319.5h7M333.5,316v7M330,309.5h7M333.5,306v7M330,317.5h7M333.5,314v7M331,339.5h7M334.5,336v7M331,332.5h7M334.5,329v7M331,342.5h7M334.5,339v7M332,324.5h7M335.5,321v7M332,305.5h7M335.5,302v7M332,323.5h7M335.5,320v7M333,334.5h7M336.5,331v7M333,319.5h7M336.5,316v7M333,310.5h7M336.5,307v7M334,322.5h7M337.5,319v7M334,325.5h7M337.5,322v7M334,339.5h7M337.5,336v7M334,323.5h7M337.5,320v7M335,340.5h7M338.5,337v7M335,314.5h7M338.5,311v7M335,320.5h7M338.5,317v7M336,317.5h7M339.5,314v7M336,310.5h7M339.5,307v7M336,319.5h7M339.5,316v7M337,313.5h7M340.5,310v7M337,312.5h7M340.5,309v7M337,319.5h7M340.5,316v7M338,304.5h7M341.5,301v7M338,322.5h7M341.5,319v7M338,336.5h7M341.5,333v7M338,320.5h7M341.5,317v7M339,342.5h7M342.5,339v7M339,329.5h7M342.5,326v7M339,310.5h7M342.5,307v7M340,314.5h7M343.5,311v7M340,328.5h7M343.5,325v7M340,340.5h7M343.5,337v7M341,310.5h7M344.5,307v7M341,317.5h7M344.5,314v7M341,324.5h7M344.5,321v7M342,342.5h7M345.5,339v7M342,325.5h7M345.5,322v7M342,324.5h7M345.5,321v7M342,320.5h7M345.5,317v7M343,334.5h7M346.5,331v7M343,319.5h7M346.5,316v7M343,331.5h7M346.5,328v7M344,337.5h7M347.5,334v7M344,335.5h7M347.5,332v7M344,333.5h7M347.5,330v7M345,337.5h7M348.5,334v7M345,342.5h7M348.5,339v7M345,342.5h7M348.5,339v7M346,313.5h7M349.5,310v7M346,332.5h7M349.5,329v7M346,319.5h7M349.5,316v7M346,317.5h7M349.5,314v7M347,326.5h7M350.5,323v7M347,337.5h7M350.5,334v7M347,308.5h7M350.5,305v7M348,311.5h7M351.5,308v7M348,328.5h7M351.5,325v7M348,333.5h7M351.5,330v7M349,331.5h7M352.5,328v7M349,327.5h7M352.5,324v7M349,316.5h7M352.5,313v7M350,331.5h7M353.5,328v7M350,334.5h7M353.5,331v7M350,325.5h7M353.5,322v7M350,319.5h7M353.5,316v7M351,320.5h7M354.5,317v7M351,314.5h7M354.5,311v7M351,347.5h7M354.5,344v7M352,329.5h7M355.5,326v7M352,322.5h7M355.5,319v7M352,333.5h7M355.5,330v7M353,312.5h7M356.5,309v7M353,315.5h7M356.5,312v7M353,335.5h7M356.5,332v7M354,337.5h7M357.5,334v7M354,324.5h7M357.5,321v7M354,326.5h7M357.5,323v7M354,330.5h7M357.5,327v7M355,318.5h7M358.5,315v7M355,320.5h7M358.5,317v7M355,328.5h7M358.5,325v7M356,337.5h7M359.5,334v7M356,330.5h7M359.5,327v7M356,312.5h7M359.5,309v7M357,316.5h7M360.5,313v7M357,314.5h7M360.5,311v7M357,330.5h7M360.5,327v7M358,325.5h7M361.5,322v7M358,334.5h7M361.5,331v7M358,341.5h7M361.5,338v7M358,329.5h7M361.5,326v7M359,310.5h7M362.5,307v7M359,328.5h7M362.5,325v7M359,323.5h7M362.5,320v7M360,344.5h7M363.5,341v7M360,313.5h7M363.5,310v7M360,313.5h7M363.5,310v7M361,326.5h7M364.5,323v7M361,341.5h7M364.5,338v7M361,318.5h7M364.5,315v7M362,335.5h7M365.5,332v7M362,314.5h7M365.5,311v7M362,315.5h7M365.5,312v7M362,320.5h7M365.5,317v7M363,325.5h7M366.5,322v7M363,319.5h7M366.5,316v7M363,325.5h7M366.5,322v7M364,335.5h7M367.5,332v7M364,323.5h7M367.5,320v7M364,312.5h7M367.5,309v7M365,319.5h7M368.5,316v7M365,314.5h7M368.5,311v7M365,334.5h7M368.5,331v7M366,327.5h7M369.5,324v7M366,329.5h7M369.5,326v7M366,309.5h7M369.5,306v7M366,322.5h7M369.5,319v7M367,343.5h7M370.5,340v7M367,308.5h7M370.5,305v7M367,334.5h7M370.5,331v7M368,325.5h7M371.5,322v7M368,325.5h7M371.5,322v7M368,325.5h7M371.5,322v7M369,327.5h7M372.5,324v7M369,336.5h7M372.5,333v7M369,323.5h7M372.5,320v7M370,331.5h7M373.5,328v7M370,312.5h7M373.5,309v7M370,316.5h7M373.5,313v7M370,346.5h7M373.5,343v7M371,339.5h7M374.5,336v7M371,330.5h7M374.5,327v7M371,311.5h7M374.5,308v7M372,312.5h7M375.5,309v7M372,343.5h7M375.5,340v7M372,327.5h7M375.5,324v7M373,306.5h7M376.5,303v7M373,329.5h7M376.5,326v7M373,334.5h7M376.5,331v7M374,325.5h7M377.5,322v7M374,333.5h7M377.5,330v7M374,324.5h7M377.5,321v7M374,343.5h7M377.5,340v7M375,313.5h7M378.5,310v7M375,329.5h7M378.5,326v7M375,335.5h7M378.5,332v7M376,344.5h7M379.5,341v7M376,344.5h7M379.5,341v7M376,344.5h7M379.5,341v7M377,323.5h7M380.5,320v7M377,331.5h7M380.5,328v7M377,304.5h7M380.5,301v7M378,341.5h7M381.5,338v7M378,329.5h7M381.5,326v7M378,316.5h7M381.5,313v7M379,324.5h7M382.5,321v7M379,320.5h7M382.5,317v7M379,309.5h7M382.5,306v7M379,339.5h7M382.5,336v7M380,343.5h7M383.5,340v7M380,335.5h7M383.5,332v7M380,331.5h7M383.5,328v7M381,333.5h7M384.5,330v7M381,325.5h7M384.5,322v7M381,322.5h7M384.5,319v7M382,321.5h7M385.5,318v7M382,329.5h7M385.5,326v7M382,335.5h7M385.5,332v7M383,322.5h7M386.5,319v7M383,343.5h7M386.5,340v7M383,322.5h7M386.5,319v7M383,330.5h7M386.5,327v7M384,335.5h7M387.5,332v7M384,344.5h7M387.5,341v7M384,342.5h7M387.5,339v7M385,330.5h7M388.5,327v7M385,323.5h7M388.5,320v7M385,322.5h7M388.5,319v7M386,336.5h7M389.5,333v7M386,328.5h7M389.5,325v7M386,322.5h7M389.5,319v7M387,315.5h7M390.5,312v7M387,336.5h7M390.5,333v7M387,332.5h7M390.5,329v7M387,314.5h7M390.5,311v7M388,303.5h7M391.5,300v7M388,318.5h7M391.5,315v7M388,311.5h7M391.5,308v7M389,312.5h7M392.5,309v7M389,310.5h7M392.5,307v7M389,330.5h7M392.5,327v7M390,328.5h7M393.5,325v7M390,307.5h7M393.5,304v7M390,326.5h7M393.5,323v7M391,331.5h7M394.5,328v7M391,345.5h7M394.5,342v7M391,324.5h7M394.5,321v7M391,331.5h7M394.5,328v7M392,330.5h7M395.5,327v7M392,338.5h7M395.5,335v7M392,344.5h7M395.5,341v7M393,331.5h7M396.5,328v7M393,306.5h7M396.5,303v7M393,323.5h7M396.5,320v7M394,314.5h7M397.5,311v7M394,313.5h7M397.5,310v7M394,335.5h7M397.5,332v7M395,311.5h7M398.5,308v7M395,330.5h7M398.5,327v7M395,321.5h7M398.5,318v7M395,327.5h7M398.5,324v7M396,318.5h7M399.5,315v7M396,334.5h7M399.5,331v7M396,330.5h7M399.5,327v7M397,333.5h7M400.5,330v7M397,323.5h7M400.5,320v7M397,326.5h7M400.5,323v7M398,335.5h7M401.5,332v7M398,319.5h7M401.5,316v7M398,319.5h7M401.5,316v7M399,340.5h7M402.5,337v7M399,319.5h7M402.5,316v7M399,335.5h7M402.5,332v7M399,340.5h7M402.5,337v7M400,303.5h7M403.5,300v7M400,340.5h7M403.5,337v7M400,334.5h7M403.5,331v7M401,325.5h7M404.5,322v7M401,341.5h7M404.5,338v7M401,320.5h7M404.5,317v7M402,332.5h7M405.5,329v7M402,337.5h7M405.5,334v7M402,331.5h7M405.5,328v7M403,342.5h7M406.5,339v7M403,356.5h7M406.5,353v7M403,333.5h7M406.5,330v7M403,313.5h7M406.5,310v7M404,349.5h7M407.5,346v7M404,336.5h7M407.5,333v7M404,331.5h7M407.5,328v7M405,329.5h7M408.5,326v7M405,320.5h7M408.5,317v7M405,327.5h7M408.5,324v7M406,343.5h7M409.5,340v7M406,342.5h7M409.5,339v7M406,336.5h7M409.5,333v7M407,326.5h7M410.5,323v7M407,347.5h7M410.5,344v7M407,321.5h7M410.5,318v7M407,323.5h7M410.5,320v7M408,344.5h7M411.5,341v7M408,345.5h7M411.5,342v7M408,349.5h7M411.5,346v7M409,339.5h7M412.5,336v7M409,325.5h7M412.5,322v7M409,329.5h7M412.5,326v7M410,324.5h7M413.5,321v7M410,323.5h7M413.5,320v7M410,329.5h7M413.5,326v7M411,327.5h7M414.5,324v7M411,319.5h7M414.5,316v7M411,339.5h7M414.5,336v7M411,329.5h7M414.5,326v7M412,319.5h7M415.5,316v7M412,338.5h7M415.5,335v7M412,313.5h7M415.5,310v7M413,350.5h7M416.5,347v7M413,314.5h7M416.5,311v7M413,325.5h7M416.5,322v7M414,306.5h7M417.5,303v7M414,318.5h7M417.5,315v7M414,345.5h7M417.5,342v7M415,326.5h7M418.5,323v7M415,327.5h7M418.5,324v7M415,331.5h7M418.5,328v7M415,343.5h7M418.5,340v7M416,321.5h7M419.5,318v7M416,348.5h7M419.5,345v7M416,334.5h7M419.5,331v7M417,319.5h7M420.5,316v7M417,334.5h7M420.5,331v7M417,315.5h7M420.5,312v7M418,308.5h7M421.5,305v7M418,333.5h7M421.5,330v7M418,327.5h7M421.5,324v7M419,331.5h7M422.5,328v7M419,324.5h7M422.5,321v7M419,349.5h7M422.5,346v7M419,327.5h7M422.5,324v7M420,330.5h7M423.5,327v7M420,343.5h7M423.5,340v7M420,320.5h7M423.5,317v7M421,344.5h7M424.5,341v7M421,351.5h7M424.5,348v7M421,318.5h7M424.5,315v7M422,318.5h7M425.5,315v7M422,346.5h7M425.5,343v7M422,335.5h7M425.5,332v7M423,348.5h7M426.5,345v7M423,336.5h7M426.5,333v7M423,310.5h7M426.5,307v7M423,343.5h7M426.5,340v7M424,341.5h7M427.5,338v7M424,323.5h7M427.5,320v7M424,333.5h7M427.5,330v7M425,353.5h7M428.5,350v7M425,335.5h7M428.5,332v7M425,343.5h7M428.5,340v7M426,343.5h7M429.5,340v7M426,335.5h7M429.5,332v7M426,341.5h7M429.5,338v7M427,344.5h7M430.5,341v7M427,317.5h7M430.5,314v7M427,345.5h7M430.5,342v7M427,326.5h7M430.5,323v7M428,351.5h7M431.5,348v7M428,311.5h7M431.5,308v7M428,354.5h7M431.5,351v7M429,352.5h7M432.5,349v7M429,316.5h7M432.5,313v7M429,338.5h7M432.5,335v7M430,315.5h7M433.5,312v7M430,341.5h7M433.5,338v7M430,325.5h7M433.5,322v7M431,311.5h7M434.5,308v7M431,336.5h7M434.5,333v7M431,335.5h7M434.5,332v7M431,341.5h7M434.5,338v7M432,319.5h7M435.5,316v7M432,317.5h7M435.5,314v7M432,334.5h7M435.5,331v7M433,355.5h7M436.5,352v7M433,306.5h7M436.5,303v7M433,346.5h7M436.5,343v7M434,352.5h7M437.5,349v7M434,333.5h7M437.5,330v7M434,312.5h7M437.5,309v7M435,344.5h7M438.5,341v7M435,321.5h7M438.5,318v7M435,313.5h7M438.5,310v7M436,336.5h7M439.5,333v7M436,325.5h7M439.5,322v7M436,334.5h7M439.5,331v7M436,316.5h7M439.5,313v7M437,317.5h7M440.5,314v7M437,318.5h7M440.5,315v7M437,331.5h7M440.5,328v7M438,330.5h7M441.5,327v7M438,334.5h7M441.5,331v7M438,333.5h7M441.5,330v7M439,339.5h7M442.5,336v7M439,327.5h7M442.5,324v7M439,325.5h7M442.5,322v7M440,327.5h7M443.5,324v7M440,344.5h7M443.5,341v7M440,330.5h7M443.5,327v7M440,327.5h7M443.5,324v7M441,344.5h7M444.5,341v7M441,350.5h7M444.5,347v7M441,352.5h7M444.5,349v7M442,358.5h7M445.5,355v7M442,346.5h7M445.5,343v7M442,335.5h7M445.5,332v7M443,324.5h7M446.5,321v7M443,324.5h7M446.5,321v7M443,318.5h7M446.5,315v7M444,345.5h7M447.5,342v7M444,331.5h7M447.5,328v7M444,336.5h7M447.5,333v7M444,333.5h7M447.5,330v7M445,352.5h7M448.5,349v7M445,330.5h7M448.5,327v7M445,334.5h7M448.5,331v7M446,347.5h7M449.5,344v7M446,310.5h7M449.5,307v7M446,328.5h7M449.5,325v7M447,337.5h7M450.5,334v7M447,346.5h7M450.5,343v7M447,336.5h7M450.5,333v7M448,338.5h7M451.5,335v7M448,316.5h7M451.5,313v7M448,339.5h7M451.5,336v7M448,333.5h7M451.5,330v7M449,314.5h7M452.5,311v7M449,338.5h7M452.5,335v7M449,325.5h7M452.5,322v7M450,331.5h7M453.5,328v7M450,337.5h7M453.5,334v7M450,316.5h7M453.5,313v7M451,339.5h7M454.5,336v7M451,322.5h7M454.5,319v7M451,316.5h7M454.5,313v7M452,337.5h7M455.5,334v7M452,321.5h7M455.5,318v7M452,344.5h7M455.5,341v7M452,338.5h7M455.5,335v7M453,343.5h7M456.5,340v7M453,334.5h7M456.5,331v7M453,341.5h7M456.5,338v7M454,339.5h7M457.5,336v7M454,318.5h7M457.5,315v7M454,334.5h7M457.5,331v7M455,355.5h7M458.5,352v7M455,336.5h7M458.5,333v7M455,330.5h7M458.5,327v7M456,336.5h7M459.5,333v7M456,332.5h7M459.5,329v7M456,331.5h7M459.5,328v7M456,353.5h7M459.5,350v7M457,340.5h7M460.5,337v7M457,333.5h7M460.5,330v7M457,341.5h7M460.5,338v7M458,344.5h7M461.5,341v7M458,319.5h7M461.5,316v7M458,341.5h7M461.5,338v7M459,339.5h7M462.5,336v7M459,336.5h7M462.5,333v7M459,332.5h7M462.5,329v7M460,344.5h7M463.5,341v7M460,346.5h7M463.5,343v7M460,327.5h7M463.5,324v7M460,333.5h7M463.5,330v7M461,347.5h7M464.5,344v7M461,329.5h7M464.5,326v7M461,326.5h7M464.5,323v7M462,342.5h7M465.5,339v7M462,328.5h7M465.5,325v7M462,332.5h7M465.5,329v7M463,353.5h7M466.5,350v7M463,351.5h7M466.5,348v7M463,348.5h7M466.5,345v7M464,316.5h7M467.5,313v7M464,332.5h7M467.5,329v7M464,353.5h7M467.5,350v7M464,316.5h7M467.5,313v7M465,323.5h7M468.5,320v7M465,324.5h7M468.5,321v7M465,318.5h7M468.5,315v7M466,344.5h7M469.5,341v7M466,332.5h7M469.5,329v7M466,323.5h7M469.5,320v7M467,346.5h7M470.5,343v7M467,331.5h7M470.5,328v7M467,338.5h7M470.5,335v7M468,328.5h7M471.5,325v7M468,351.5h7M471.5,348v7M468,322.5h7M471.5,319v7M468,336.5h7M471.5,333v7M469,343.5h7M472.5,340v7M469,328.5h7M472.5,325v7M469,331.5h7M472.5,328v7M470,353.5h7M473.5,350v7M470,335.5h7M473.5,332v7M470,320.5h7M473.5,317v7M471,331.5h7M474.5,328v7M471,326.5h7M474.5,323v7M471,321.5h7M474.5,318v7M472,355.5h7M475.5,352v7M472,318.5h7M475.5,315v7M472,351.5h7M475.5,348v7M472,341.5h7M475.5,338v7M473,335.5h7M476.5,332v7M473,344.5h7M476.5,341v7M473,347.5h7M476.5,344v7M474,343.5h7M477.5,340v7M474,350.5h7M477.5,347v7M474,325.5h7M477.5,322v7M475,337.5h7M478.5,334v7M475,334.5h7M478.5,331v7M475,354.5h7M478.5,351v7M476,329.5h7M479.5,326v7M476,336.5h7M479.5,333v7M476,333.5h7M479.5,330v7M476,348.5h7M479.5,345v7M477,330.5h7M480.5,327v7M477,342.5h7M480.5,339v7M477,324.5h7M480.5,321v7M478,350.5h7M481.5,347v7M478,321.5h7M481.5,318v7M478,327.5h7M481.5,324v7M479,346.5h7M482.5,343v7M479,325.5h7M482.5,322v7M479,337.5h7M482.5,334v7M480,339.5h7M483.5,336v7M480,350.5h7M483.5,347v7M480,323.5h7M483.5,320v7M480,348.5h7M483.5,345v7M481,327.5h7M484.5,324v7M481,342.5h7M484.5,339v7M481,356.5h7M484.5,353v7M482,335.5h7M485.5,332v7M482,344.5h7M485.5,341v7M482,345.5h7M485.5,342v7M483,348.5h7M486.5,345v7M483,336.5h7M486.5,333v7M483,347.5h7M486.5,344v7M484,340.5h7M487.5,337v7M484,340.5h7M487.5,337v7M484,350.5h7M487.5,347v7M484,338.5h7M487.5,335v7M485,350.5h7M488.5,347v7M485,335.5h7M488.5,332v7M485,348.5h7M488.5,345v7M486,337.5h7M489.5,334v7M486,347.5h7M489.5,344v7M486,345.5h7M489.5,342v7M487,359.5h7M490.5,356v7M487,343.5h7M490.5,340v7M487,334.5h7M490.5,331v7M488,325.5h7M491.5,322v7M488,328.5h7M491.5,325v7M488,337.5h7M491.5,334v7M488,345.5h7M491.5,342v7M489,354.5h7M492.5,351v7M489,329.5h7M492.5,326v7M489,340.5h7M492.5,337v7M490,347.5h7M493.5,344v7M490,332.5h7M493.5,329v7M490,326.5h7M493.5,323v7M491,366.5h7M494.5,363v7M491,325.5h7M494.5,322v7M491,343.5h7M494.5,340v7M492,365.5h7M495.5,362v7M492,348.5h7M495.5,345v7M492,357.5h7M495.5,354v7M493,347.5h7M496.5,344v7M493,351.5h7M496.5,348v7M493,368.5h7M496.5,365v7M493,320.5h7M496.5,317v7M494,354.5h7M497.5,351v7M494,338.5h7M497.5,335v7M494,346.5h7M497.5,343v7M495,357.5h7M498.5,354v7M495,332.5h7M498.5,329v7M495,352.5h7M498.5,349v7M496,355.5h7M499.5,352v7M496,357.5h7M499.5,354v7M496,361.5h7M499.5,358v7M497,356.5h7M500.5,353v7M497,359.5h7M500.5,356v7M497,352.5h7M500.5,349v7M497,321.5h7M500.5,318v7M498,364.5h7M501.5,361v7M498,337.5h7M501.5,334v7M498,357.5h7M501.5,354v7M499,341.5h7M502.5,338v7M499,327.5h7M502.5,324v7M499,331.5h7M502.5,328v7M500,361.5h7M503.5,358v7M500,347.5h7M503.5,344v7M500,346.5h7M503.5,343v7M501,356.5h7M504.5,353v7M501,358.5h7M504.5,355v7M501,352.5h7M504.5,349v7M501,346.5h7M504.5,343v7M502,325.5h7M505.5,322v7M502,357.5h7M505.5,354v7M502,354.5h7M505.5,351v7M503,337.5h7M506.5,334v7M503,363.5h7M506.5,360v7M503,362.5h7M506.5,359v7M504,356.5h7M507.5,353v7M504,360.5h7M507.5,357v7M504,324.5h7M507.5,321v7M505,361.5h7M508.5,358v7M505,359.5h7M508.5,356v7M505,354.5h7M508.5,351v7M505,336.5h7M508.5,333v7M506,360.5h7M509.5,357v7M506,360.5h7M509.5,357v7M506,327.5h7M509.5,324v7M507,340.5h7M510.5,337v7M507,341.5h7M510.5,338v7M507,358.5h7M510.5,355v7M508,334.5h7M511.5,331v7M508,359.5h7M511.5,356v7M508,355.5h7M511.5,352v7M509,336.5h7M512.5,333v7M509,351.5h7M512.5,348v7M509,352.5h7M512.5,349v7M509,360.5h7M512.5,357v7M510,353.5h7M513.5,350v7M510,357.5h7M513.5,354v7M510,362.5h7M513.5,359v7M511,360.5h7M514.5,357v7M511,358.5h7M514.5,355v7M511,327.5h7M514.5,324v7M512,364.5h7M515.5,361v7M512,333.5h7M515.5,330v7M512,362.5h7M515.5,359v7M513,357.5h7M516.5,354v7M513,350.5h7M516.5,347v7M513,334.5h7M516.5,331v7M513,364.5h7M516.5,361v7M514,354.5h7M517.5,351v7M514,356.5h7M517.5,353v7M514,352.5h7M517.5,349v7M515,358.5h7M518.5,355v7M515,325.5h7M518.5,322v7M515,348.5h7M518.5,345v7M516,365.5h7M519.5,362v7M516,349.5h7M519.5,346v7M516,357.5h7M519.5,354v7M517,361.5h7M520.5,358v7M517,357.5h7M520.5,354v7M517,356.5h7M520.5,353v7M517,365.5h7M520.5,362v7M518,359.5h7M521.5,356v7M518,341.5h7M521.5,338v7M518,354.5h7M521.5,351v7M519,355.5h7M522.5,352v7M519,358.5h7M522.5,355v7M519,352.5h7M522.5,349v7M520,363.5h7M523.5,360v7M520,349.5h7M523.5,346v7M520,354.5h7M523.5,351v7M521,346.5h7M524.5,343v7M521,366.5h7M524.5,363v7M521,350.5h7M524.5,347v7M521,352.5h7M524.5,349v7M522,351.5h7M525.5,348v7M522,357.5h7M525.5,354v7M522,346.5h7M525.5,343v7M523,339.5h7M526.5,336v7M523,346.5h7M526.5,343v7M523,356.5h7M526.5,353v7M524,364.5h7M527.5,361v7M524,365.5h7M527.5,362v7M524,365.5h7M527.5,362v7M525,354.5h7M528.5,351v7M525,349.5h7M528.5,346v7M525,363.5h7M528.5,360v7M525,347.5h7M528.5,344v7M526,348.5h7M529.5,345v7M526,351.5h7M529.5,348v7M526,355.5h7M529.5,352v7M527,361.5h7M530.5,358v7M527,362.5h7M530.5,359v7M527,349.5h7M530.5,346v7M528,355.5h7M531.5,352v7M528,347.5h7M531.5,344v7M528,354.5h7M531.5,351v7M529,360.5h7M532.5,357v7M529,357.5h7M532.5,354v7M529,366.5h7M532.5,363v7M529,363.5h7M532.5,360v7M530,364.5h7M533.5,361v7M530,367.5h7M533.5,364v7M530,364.5h7M533.5,361v7M531,352.5h7M534.5,349v7M531,358.5h7M534.5,355v7M531,356.5h7M534.5,353v7M532,357.5h7M535.5,354v7M532,361.5h7M535.5,358v7M532,363.5h7M535.5,360v7M533,360.5h7M536.5,357v7M533,360.5h7M536.5,357v7M533,364.5h7M536.5,361v7M533,362.5h7M536.5,359v7M534,355.5h7M537.5,352v7M534,352.5h7M537.5,349v7M534,355.5h7M537.5,352v7M535,353.5h7M538.5,350v7M535,351.5h7M538.5,348v7M535,347.5h7M538.5,344v7M536,341.5h7M539.5,338v7M536,352.5h7M539.5,349v7M536,358.5h7M539.5,355v7M537,349.5h7M540.5,346v7M537,348.5h7M540.5,345v7M537,348.5h7M540.5,345v7M537,347.5h7M540.5,344v7M538,350.5h7M541.5,347v7M538,356.5h7M541.5,353v7M538,355.5h7M541.5,352v7M539,351.5h7M542.5,348v7M539,361.5h7M542.5,358v7M539,339.5h7M542.5,336v7M540,350.5h7M543.5,347v7M540,348.5h7M543.5,345v7M540,362.5h7M543.5,359v7M541,352.5h7M544.5,349v7M541,359.5h7M544.5,356v7M541,348.5h7M544.5,345v7M541,367.5h7M544.5,364v7M542,357.5h7M545.5,354v7M542,357.5h7M545.5,354v7M542,366.5h7M545.5,363v7M543,355.5h7M546.5,352v7M543,360.5h7M546.5,357v7M543,351.5h7M546.5,348v7M544,352.5h7M547.5,349v7M544,361.5h7M547.5,358v7M544,365.5h7M547.5,362v7M545,352.5h7M548.5,349v7M545,363.5h7M548.5,360v7M545,340.5h7M548.5,337v7M545,360.5h7M548.5,357v7M546,344.5h7M549.5,341v7M546,337.5h7M549.5,334v7M546,335.5h7M549.5,332v7M547,357.5h7M550.5,354v7M547,360.5h7M550.5,357v7M547,352.5h7M550.5,349v7M548,351.5h7M551.5,348v7M548,356.5h7M551.5,353v7M548,353.5h7M551.5,350v7M549,363.5h7M552.5,360v7M549,355.5h7M552.5,352v7M549,346.5h7M552.5,343v7M550,362.5h7M553.5,359v7M550,337.5h7M553.5,334v7M550,349.5h7M553.5,346v7M550,366.5h7M553.5,363v7M551,360.5h7M554.5,357v7M551,359.5h7M554.5,356v7M551,358.5h7M554.5,355v7M552,343.5h7M555.5,340v7M552,356.5h7M555.5,353v7M552,364.5h7M555.5,361v7M553,353.5h7M556.5,350v7M553,358.5h7M556.5,355v7M553,361.5h7M556.5,358v7M554,357.5h7M557.5,354v7M554,359.5h7M557.5,356v7M554,360.5h7M557.5,357v7M554,344.5h7M557.5,341v7M555,353.5h7M558.5,350v7M555,357.5h7M558.5,354v7M555,346.5h7M558.5,343v7M556,359.5h7M559.5,356v7M556,361.5h7M559.5,358v7M556,344.5h7M559.5,341v7M557,352.5h7M560.5,349v7M557,355.5h7M560.5,352v7M88,275.5h7M91.5,272v7M89,279.5h7M92.5,276v7M91,269.5h7M94.5,266v7M92,281.5h7M95.5,278v7M93,297.5h7M96.5,294v7M94,292.5h7M97.5,289v7M95,283.5h7M98.5,280v7M96,274.5h7M99.5,271v7M97,289.5h7M100.5,286v7M98,277.5h7M101.5,274v7M100,273.5h7M103.5,270v7M101,285.5h7M104.5,282v7M102,272.5h7M105.5,269v7M103,291.5h7M106.5,288v7M104,257.5h7M107.5,254v7M105,286.5h7M108.5,283v7M106,287.5h7M109.5,284v7M108,279.5h7M111.5,276v7M109,301.5h7M112.5,298v7M110,274.5h7M113.5,271v7M111,276.5h7M114.5,273v7M112,291.5h7M115.5,288v7M113,290.5h7M116.5,287v7M114,278.5h7M117.5,275v7M116,285.5h7M119.5,282v7M117,291.5h7M120.5,288v7M118,269.5h7M121.5,266v7M119,311.5h7M122.5,308v7M120,299.5h7M123.5,296v7M121,304.5h7M124.5,301v7M122,294.5h7M125.5,291v7M124,311.5h7M127.5,308v7M125,295.5h7M128.5,292v7M126,295.5h7M129.5,292v7M127,317.5h7M130.5,314v7M128,288.5h7M131.5,285v7M129,318.5h7M132.5,315v7M130,310.5h7M133.5,307v7M131,278.5h7M134.5,275v7M133,281.5h7M136.5,278v7M134,278.5h7M137.5,275v7M135,285.5h7M138.5,282v7M136,280.5h7M139.5,277v7M137,316.5h7M140.5,313v7M138,309.5h7M141.5,306v7M139,303.5h7M142.5,300v7M141,310.5h7M144.5,307v7M142,306.5h7M145.5,303v7M143,296.5h7M146.5,293v7M144,304.5h7M147.5,301v7"/>
</svg></body></html>
